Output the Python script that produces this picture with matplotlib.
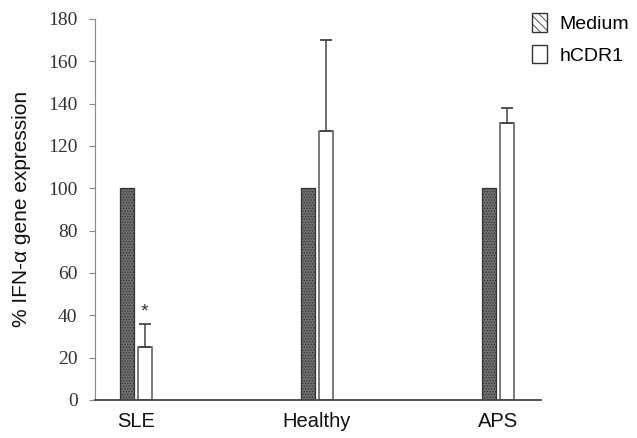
import numpy as np
import matplotlib.pyplot as plt
from matplotlib.patches import Patch

categories = ["SLE", "Healthy", "APS"]
medium = [100, 100, 100]
hcdr1 = [25, 127, 131]
hcdr1_err = [11, 43, 7]

fig = plt.figure(figsize=(6.37, 4.38), dpi=100)
ax = fig.add_axes([0.149, 0.087, 0.700, 0.870])

x = np.arange(len(categories))
w = 0.08
off = 0.049

plt.rcParams['hatch.color'] = '#444444'
plt.rcParams['hatch.linewidth'] = 0.6

ax.bar(x - off, medium, w, color="#6e6e6e", edgecolor="#333333",
       linewidth=0.9, hatch="......", zorder=2)
ax.bar(x + off, hcdr1, w, color="white", edgecolor="#555555",
       linewidth=1.1, zorder=2)
ax.errorbar(x + off, hcdr1, yerr=[np.zeros(3), hcdr1_err], fmt="none",
            ecolor="#444444", elinewidth=1.1, capsize=4, capthick=1.3, zorder=3)

# significance marker
ax.text(x[0] + off, hcdr1[0] + hcdr1_err[0] + 1.5, "*", ha="center",
        va="bottom", fontsize=14, family="Liberation Sans", color="#333333")

ax.set_xlim(-0.227, 2.237)
ax.set_ylim(0, 180)
ax.set_yticks(range(0, 181, 20))
ax.set_xticks(x)
ax.set_xticklabels(categories, family="Liberation Sans", fontsize=14.5,
                   color="#111111")
ax.tick_params(axis="x", length=0, pad=9)
ax.tick_params(axis="y", direction="out", length=4.5, color="#888888",
               labelsize=14, pad=8)
for lbl in ax.get_yticklabels():
    lbl.set_family("Liberation Serif")
    lbl.set_color("#333333")

for s in ["top", "right"]:
    ax.spines[s].set_visible(False)
ax.spines["left"].set_color("#888888")
ax.spines["bottom"].set_color("#444444")
ax.spines["bottom"].set_linewidth(1.3)

ax.set_ylabel("% IFN-α gene expression", family="Liberation Sans",
              fontsize=15, labelpad=12, color="#111111")

handles = [
    Patch(facecolor="white", edgecolor="#333333", hatch="\\\\\\\\", label="Medium"),
    Patch(facecolor="white", edgecolor="#333333", label="hCDR1"),
]
fig.legend(handles=handles, loc="upper left", bbox_to_anchor=(0.807, 1.01),
           frameon=False, prop={"family": "Liberation Sans", "size": 14},
           handlelength=0.8, handleheight=1.1, handletextpad=0.65,
           labelspacing=0.6)

fig.savefig("out.png", dpi=100)
